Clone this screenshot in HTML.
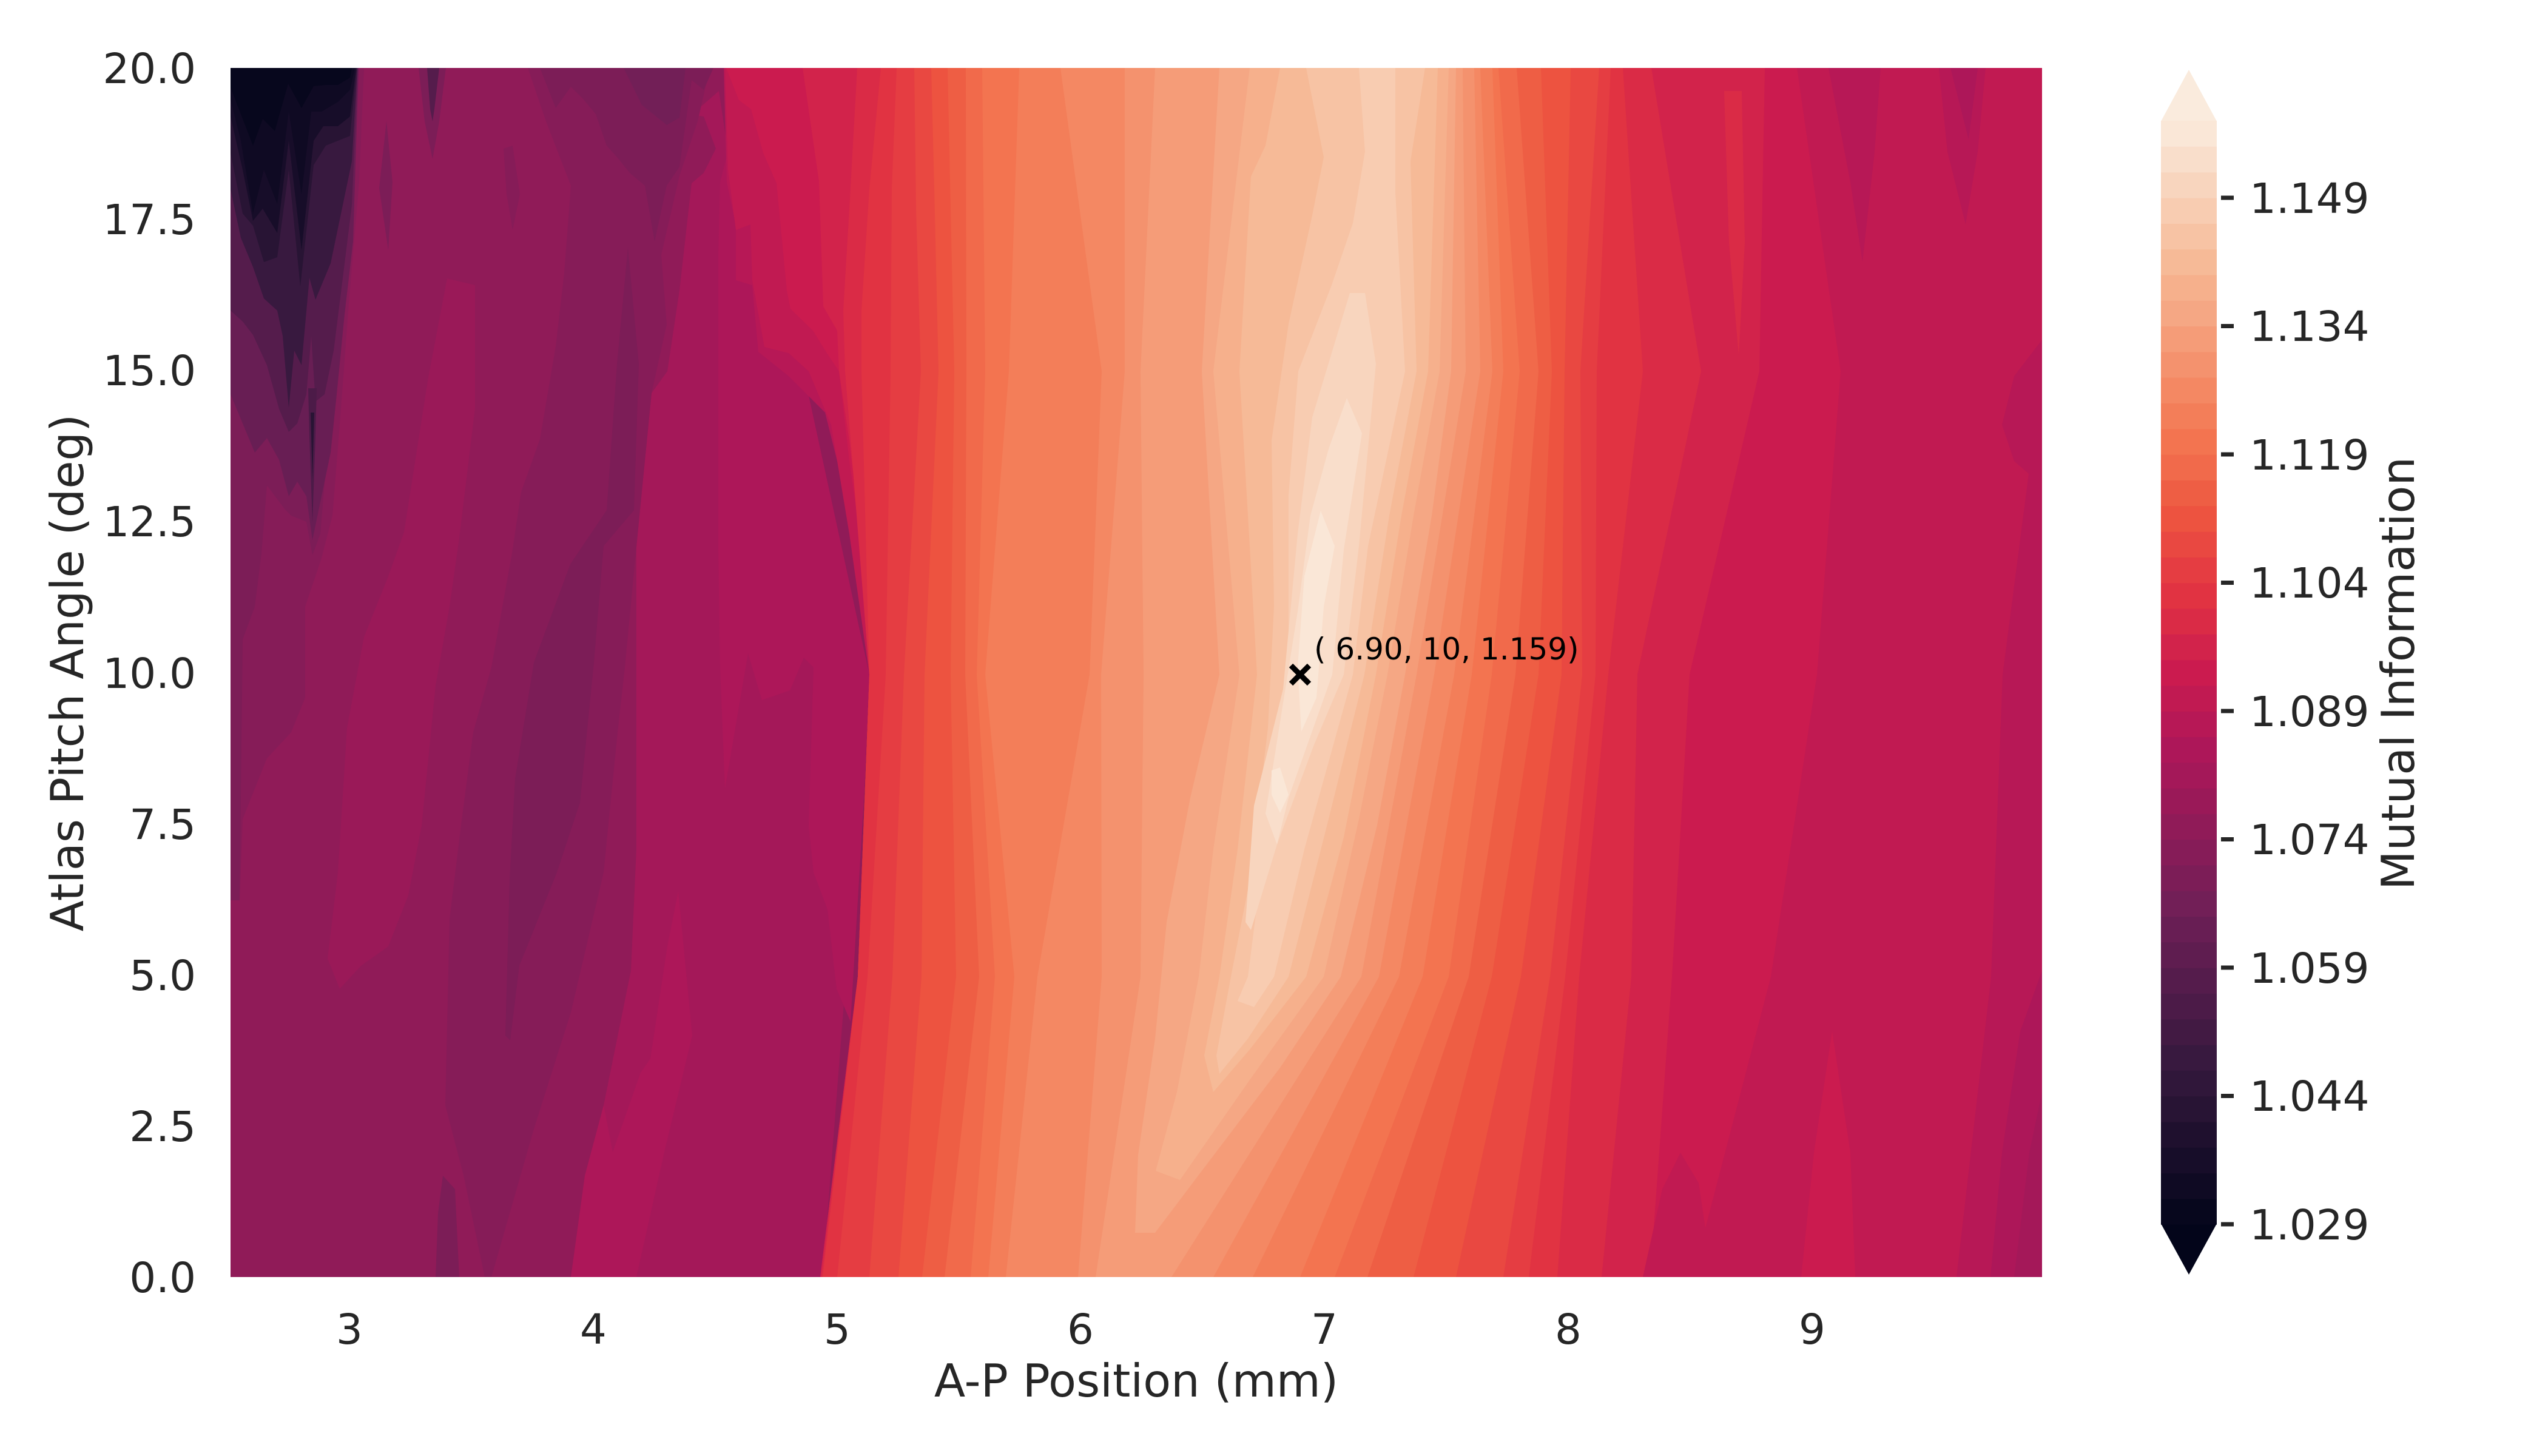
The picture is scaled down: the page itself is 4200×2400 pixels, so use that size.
<!DOCTYPE html>
<html><head><meta charset="utf-8"><style>
html,body{margin:0;padding:0;background:#fff;}
svg{display:block;}
text{font-family:"DejaVu Sans","Liberation Sans",sans-serif;fill:#262626;}
</style></head><body>
<svg width="4200" height="2400" viewBox="0 0 4200 2400" xmlns="http://www.w3.org/2000/svg">
<defs><clipPath id="pc"><rect x="380" y="112" width="2986" height="1993"/></clipPath></defs>
<rect x="0" y="0" width="4200" height="2400" fill="#fff"/>
<g clip-path="url(#pc)">
<rect x="380" y="112" width="2986" height="1993" fill="#901B58"/>
<polygon fill="#9A1958" points="737,459 783,470 783,673 757,887 741,1000 718,1130 695,1361 673,1476 640,1560 595,1592 560,1630 540,1580 557,1438 572,1200 600,1050 640,950 666,877 706,622"/>
<polygon fill="#A41859" points="1140,189 1185,150 1200,250 1280,304 1299,496 1433,1112 1356,2105 941,2105 995,1822 1040,1600 1049,1400 1049,900 1074,648 1100,612 1120,479 1140,302 1160,285 1180,245 1160,192"/>
<polygon fill="#AD1759" points="1187,300 1200,250 1213,372 1240,462 1299,496 1433,1112 1425,1300 1402,1684 1379,1630 1364,1499 1341,1438 1333,1361 1341,1100 1325,1084 1302,1138 1256,1154 1233,1077 1195,1300 1187,1100 1184,900 1184,420"/>
<polygon fill="#AD1759" points="1118,1469 1141,1707 1095,1899 1049,2105 941,2105 964,1938 995,1822 1010,1899 1056,1768 1072,1745 1100,1560"/>
<polygon fill="#861C58" points="870,112 1170,112 1150,200 1120,290 1090,420 1099,535 1074,648 1048,912 1030,1100 1018,1207 995,1438 941,1669 880,1861 810,2105 799,2105 764,1937 734,1822 741,1515 760,1360 780,1207 810,1100 844,912 859,811 890,724 916,571 930,450 941,306 900,200"/>
<polygon fill="#7C1D57" points="890,112 916,178 941,143 961,163 982,188 1000,240 1018,260 1038,285 1063,306 1079,398 1099,306 1120,275 1130,204 1140,132 1160,148 1176,112"/>
<polygon fill="#721F57" points="1028,112 1058,173 1099,206 1120,194 1130,112"/>
<polygon fill="#7C1D57" points="1035,408 1053,600 1045,841 995,900 979,1092 956,1323 918,1438 856,1592 841,1715 833,1707 840,1450 849,1284 880,1092 940,930 1000,841 1017,600"/>
<polygon fill="#7C1D57" points="730,1938 750,1960 757,2105 718,2105 722,2000"/>
<polygon fill="#7C1D57" points="637,200 647,300 640,412 625,310"/>
<polygon fill="#861C58" points="830,245 845,240 857,320 845,379 835,320"/>
<polygon fill="#7C1D57" points="690,112 735,112 724,200 713,262 700,200"/>
<polygon fill="#551C4C" points="704,112 724,112 716,180 713,200 709,180"/>
<!-- dark wedge -->
<polygon fill="#861C58" points="380,112 600,112 592,300 575,500 560,700 548,850 530,920 503,1000 503,1150 480,1207 440,1250 400,1350 395,1484 380,1484"/>
<polygon fill="#7C1D57" points="380,112 592,112 584,300 572,450 560,560 548,650 538,760 528,880 515,915 505,860 480,850 470,840 440,800 431,912 420,1000 400,1054 395,1484 380,1484"/>
<polygon fill="#681E54" points="380,112 591,112 582,398 568,518 555,650 545,746 530,818 515,890 505,818 490,794 476,818 460,758 440,722 420,746 400,698 380,650"/>
<polygon fill="#551C4C" points="380,112 590,112 580,338 565,458 550,578 535,650 520,662 513,554 505,650 490,698 476,712 460,674 440,602 417,552 400,530 380,512"/>
<polygon fill="#38193F" points="380,112 589,112 580,266 565,338 545,434 520,494 510,458 497,602 485,578 476,672 466,554 457,512 435,492 417,440 397,392 380,312"/>
<polygon fill="#281434" points="380,112 588,112 577,224 557,232 537,240 517,272 495,472 476,280 457,424 435,432 417,372 400,352 380,252"/>
<polygon fill="#170D29" points="380,112 587,112 577,192 557,208 533,208 517,232 497,412 476,232 457,384 433,344 417,364 400,280 380,192"/>
<polygon fill="#0F0A23" points="380,112 585,112 577,148 557,168 530,184 513,184 497,320 476,184 457,336 435,280 417,352 397,232 380,164"/>
<polygon fill="#07071D" points="380,112 580,112 577,128 557,140 537,140 517,142 497,178 475,138 453,216 433,196 417,240 380,144"/>
<polygon fill="#4C1B48" points="508,640 522,640 520,720 515,860 510,720"/>
<polygon fill="#281434" points="512,680 518,680 515,790"/>
<!-- ridge chain -->
<polygon fill="#B71856" points="1193,112 1198,300 1213,372 1213,462 1240,470 1250,580 1300,620 1360,680 1390,800 1410,950 1433,1112 1414,1610 1352,2105 3366,2105 3366,112"/>
<polygon fill="#C11A52" points="1195,112 1200,280 1213,379 1237,370 1240,462 1260,572 1300,582 1333,612 1370,700 1400,880 1433,1112 1414,1610 1352,2105 3225,2105 3282,1610 3301,1112 3366,612 3366,112"/>
<polygon fill="#CB1B4F" points="1197,112 1218,165 1238,180 1258,252 1280,302 1297,479 1303,509 1340,545 1363,582 1383,612 1400,760 1420,900 1433,1112 1414,1610 1352,2105 2790,2105 2919,1610 2995,1112 3034,612 2962,112"/>
<polygon fill="#D2234B" points="1323,112 1350,299 1357,505 1380,545 1383,612 1400,726 1420,900 1433,1112 1414,1610 1352,2105 2720,2105 2756,1610 2785,1112 2900,612 2909,112"/>
<polygon fill="#DA2B46" points="1413,112 1400,345 1390,512 1393,612 1433,1112 1414,1610 1354,2105 2640,2105 2689,1610 2699,1112 2804,612 2722,112"/>
<polygon fill="#E13342" points="1452,112 1433,312 1420,512 1420,612 1433,1112 1414,1610 1356,2105 2567,2105 2603,1610 2651,1112 2708,612 2675,112"/>
<polygon fill="#E53D42" points="1478,112 1470,312 1468,612 1460,1112 1430,1610 1380,2105 2520,2105 2580,1610 2630,1112 2632,612 2655,112"/>
<polygon fill="#E94841" points="1507,112 1510,345 1518,612 1490,1112 1471,1610 1433,2105 2478,2105 2555,1610 2608,1112 2605,612 2636,112"/>
<polygon fill="#ED5340" points="1535,112 1540,312 1547,612 1524,1112 1519,1610 1481,2105 2400,2105 2507,1610 2574,1112 2579,612 2589,112"/>
<polygon fill="#EE5E44" points="1562,112 1567,345 1573,612 1567,1112 1576,1610 1520,2105 2330,2105 2459,1610 2536,1112 2558,612 2540,112"/>
<polygon fill="#F16A4B" points="1592,112 1593,612 1591,1112 1614,1610 1557,2105 2254,2105 2421,1610 2498,1112 2536,612 2500,112"/>
<polygon fill="#F37450" points="1619,112 1624,612 1610,1112 1640,1610 1600,2105 2200,2105 2388,1610 2459,1112 2505,612 2470,112"/>
<polygon fill="#F37E59" points="1680,112 1663,612 1624,1112 1672,1610 1629,2105 2143,2105 2345,1610 2426,1112 2478,612 2460,112"/>
<polygon fill="#F48863" points="1748,112 1816,612 1796,1112 1710,1610 1658,2105 2065,2105 2306,1610 2397,1112 2460,612 2440,112"/>
<polygon fill="#F4926E" points="1854,112 1854,612 1815,1112 1816,1610 1777,2105 2000,2105 2273,1610 2364,1112 2440,612 2430,112"/>
<polygon fill="#F59C78" points="1904,112 1880,612 1885,1112 1880,1610 1806,2105 1931,2105 2244,1610 2335,1112 2416,612 2411,112"/>
<polygon fill="#F5A784" points="2010,112 1981,612 2010,1112 1962,1315 1923,1520 1904,1712 1876,1904 1871,2032 1904,2032 1981,1930 2110,1760 2210,1610 2270,1360 2316,1112 2360,850 2392,612 2400,112"/>
<polygon fill="#F6B08C" points="2060,112 2000,612 2043,1112 2000,1400 1976,1610 1940,1800 1905,1930 1945,1945 2060,1780 2182,1610 2240,1350 2287,1112 2330,850 2373,612 2388,112"/>
<polygon fill="#F6BA97" points="2110,112 2086,240 2062,291 2043,612 2060,900 2072,1112 2040,1400 2010,1610 1985,1740 2000,1800 2060,1730 2153,1610 2215,1380 2268,1112 2310,850 2354,612 2370,112"/>
<polygon fill="#F7C3A4" points="2153,112 2182,259 2163,355 2124,534 2096,726 2100,1000 2090,1200 2060,1450 2029,1610 2005,1740 2010,1770 2057,1712 2124,1610 2190,1350 2249,1112 2290,850 2335,612 2325,266 2349,112"/>
<polygon fill="#F8CCB1" points="2240,112 2250,250 2230,368 2195,470 2140,612 2124,816 2124,1112 2090,1350 2057,1610 2040,1650 2067,1660 2100,1610 2150,1400 2230,1112 2255,900 2316,612 2300,317 2300,112"/>
<polygon fill="#F8D5BE" points="2225,483 2163,688 2139,880 2115,1136 2067,1328 2053,1520 2062,1533 2105,1392 2165,1230 2215,1112 2240,900 2268,600 2250,483"/>
<polygon fill="#F9DECB" points="2220,656 2245,714 2215,906 2196,1112 2124,1315 2105,1392 2086,1341 2139,1008 2160,850 2190,740"/>
<polygon fill="#FAE7D7" points="2177,842 2200,900 2182,1000 2170,1150 2145,1206 2139,1100 2150,950"/>
<polygon fill="#FAE7D7" points="2096,1270 2110,1265 2124,1310 2110,1340 2096,1310"/>
<!-- right patches -->
<polygon fill="#B71856" points="3014,112 3100,112 3090,250 3070,432 3050,300"/>
<polygon fill="#B71856" points="3196,112 3273,112 3260,250 3240,370 3210,250"/>
<polygon fill="#AD1759" points="3215,112 3260,112 3245,230"/>
<polygon fill="#B71856" points="3366,560 3366,800 3320,760 3300,700 3320,620"/>
<polygon fill="#B71856" points="3366,900 3345,1200 3340,1500 3366,1700"/>
<polygon fill="#DA2B46" points="2842,150 2871,150 2876,400 2866,585 2850,400"/>
<polygon fill="#CB1B4F" points="2969,2105 3058,2105 3050,1900 3020,1700 2990,1900"/>
<polygon fill="#C11A52" points="2708,2105 2823,2105 2800,1950 2770,1900 2740,1960"/>
<polygon fill="#AD1759" points="3281,2105 3300,1900 3330,1700 3366,1600 3366,2105"/>
<polygon fill="#A41859" points="3320,2105 3345,1900 3366,1800 3366,2105"/>
</g>
<!-- marker -->
<g stroke="#000" stroke-width="9">
<line x1="2128" y1="1097" x2="2158" y2="1127"/>
<line x1="2158" y1="1097" x2="2128" y2="1127"/>
</g>
<text x="2166" y="1087" font-size="50" style="fill:#000">( 6.90, 10, 1.159)</text>
<!-- y ticks -->
<g font-size="69" text-anchor="end">
<text x="323" y="2130">0.0</text>
<text x="323" y="1881">2.5</text>
<text x="323" y="1632">5.0</text>
<text x="323" y="1383">7.5</text>
<text x="323" y="1134">10.0</text>
<text x="323" y="884">12.5</text>
<text x="323" y="635">15.0</text>
<text x="323" y="386">17.5</text>
<text x="323" y="137">20.0</text>
</g>
<!-- x ticks -->
<g font-size="69" text-anchor="middle">
<text x="576" y="2215">3</text>
<text x="978" y="2215">4</text>
<text x="1380" y="2215">5</text>
<text x="1781" y="2215">6</text>
<text x="2183" y="2215">7</text>
<text x="2585" y="2215">8</text>
<text x="2987" y="2215">9</text>
</g>
<text x="1873" y="2302" font-size="75" text-anchor="middle">A-P Position (mm)</text>
<text transform="translate(137,1109) rotate(-90)" font-size="75" text-anchor="middle">Atlas Pitch Angle (deg)</text>
<!-- colorbar -->
<g>
<polygon fill="#FAEBDD" points="3562,200 3654,200 3608,115"/>
<polygon fill="#03051A" points="3562,2017 3654,2017 3608,2101"/>
<rect x="3562" y="1975.7" width="92" height="43" fill="#07071D"/>
<rect x="3562" y="1933.4" width="92" height="43" fill="#0F0A23"/>
<rect x="3562" y="1891.1" width="92" height="43" fill="#170D29"/>
<rect x="3562" y="1848.8" width="92" height="43" fill="#1F102E"/>
<rect x="3562" y="1806.5" width="92" height="43" fill="#281434"/>
<rect x="3562" y="1764.2" width="92" height="43" fill="#30173A"/>
<rect x="3562" y="1721.9" width="92" height="43" fill="#38193F"/>
<rect x="3562" y="1679.6" width="92" height="43" fill="#421A43"/>
<rect x="3562" y="1637.3" width="92" height="43" fill="#4C1B48"/>
<rect x="3562" y="1595.0" width="92" height="43" fill="#551C4C"/>
<rect x="3562" y="1552.7" width="92" height="43" fill="#5F1D50"/>
<rect x="3562" y="1510.4" width="92" height="43" fill="#681E54"/>
<rect x="3562" y="1468.1" width="92" height="43" fill="#721F57"/>
<rect x="3562" y="1425.8" width="92" height="43" fill="#7C1D57"/>
<rect x="3562" y="1383.5" width="92" height="43" fill="#861C58"/>
<rect x="3562" y="1341.2" width="92" height="43" fill="#901B58"/>
<rect x="3562" y="1298.9" width="92" height="43" fill="#9A1958"/>
<rect x="3562" y="1256.6" width="92" height="43" fill="#A41859"/>
<rect x="3562" y="1214.3" width="92" height="43" fill="#AD1759"/>
<rect x="3562" y="1172.0" width="92" height="43" fill="#B71856"/>
<rect x="3562" y="1129.7" width="92" height="43" fill="#C11A52"/>
<rect x="3562" y="1087.4" width="92" height="43" fill="#CB1B4F"/>
<rect x="3562" y="1045.1" width="92" height="43" fill="#D2234B"/>
<rect x="3562" y="1002.7" width="92" height="43" fill="#DA2B46"/>
<rect x="3562" y="960.4" width="92" height="43" fill="#E13342"/>
<rect x="3562" y="918.1" width="92" height="43" fill="#E53D42"/>
<rect x="3562" y="875.8" width="92" height="43" fill="#E94841"/>
<rect x="3562" y="833.5" width="92" height="43" fill="#ED5340"/>
<rect x="3562" y="791.2" width="92" height="43" fill="#EE5E44"/>
<rect x="3562" y="748.9" width="92" height="43" fill="#F16A4B"/>
<rect x="3562" y="706.6" width="92" height="43" fill="#F37450"/>
<rect x="3562" y="664.3" width="92" height="43" fill="#F37E59"/>
<rect x="3562" y="622.0" width="92" height="43" fill="#F48863"/>
<rect x="3562" y="579.7" width="92" height="43" fill="#F4926E"/>
<rect x="3562" y="537.4" width="92" height="43" fill="#F59C78"/>
<rect x="3562" y="495.1" width="92" height="43" fill="#F5A784"/>
<rect x="3562" y="452.8" width="92" height="43" fill="#F6B08C"/>
<rect x="3562" y="410.5" width="92" height="43" fill="#F6BA97"/>
<rect x="3562" y="368.2" width="92" height="43" fill="#F7C3A4"/>
<rect x="3562" y="325.9" width="92" height="43" fill="#F8CCB1"/>
<rect x="3562" y="283.6" width="92" height="43" fill="#F8D5BE"/>
<rect x="3562" y="241.3" width="92" height="43" fill="#F9DECB"/>
<rect x="3562" y="199.0" width="92" height="42.3" fill="#FAE7D7"/>
</g>
<g stroke="#262626" stroke-width="7">
<line x1="3661" y1="2018" x2="3682" y2="2018"/>
<line x1="3661" y1="1806.5" x2="3682" y2="1806.5"/>
<line x1="3661" y1="1595" x2="3682" y2="1595"/>
<line x1="3661" y1="1383.5" x2="3682" y2="1383.5"/>
<line x1="3661" y1="1172" x2="3682" y2="1172"/>
<line x1="3661" y1="960.5" x2="3682" y2="960.5"/>
<line x1="3661" y1="749" x2="3682" y2="749"/>
<line x1="3661" y1="537.5" x2="3682" y2="537.5"/>
<line x1="3661" y1="326" x2="3682" y2="326"/>
</g>
<g font-size="69">
<text x="3708" y="2043">1.029</text>
<text x="3708" y="1831">1.044</text>
<text x="3708" y="1620">1.059</text>
<text x="3708" y="1408">1.074</text>
<text x="3708" y="1197">1.089</text>
<text x="3708" y="985">1.104</text>
<text x="3708" y="774">1.119</text>
<text x="3708" y="562">1.134</text>
<text x="3708" y="351">1.149</text>
</g>
<text transform="translate(3979,1110) rotate(-90)" font-size="75" text-anchor="middle">Mutual Information</text>
</svg>
</body></html>
